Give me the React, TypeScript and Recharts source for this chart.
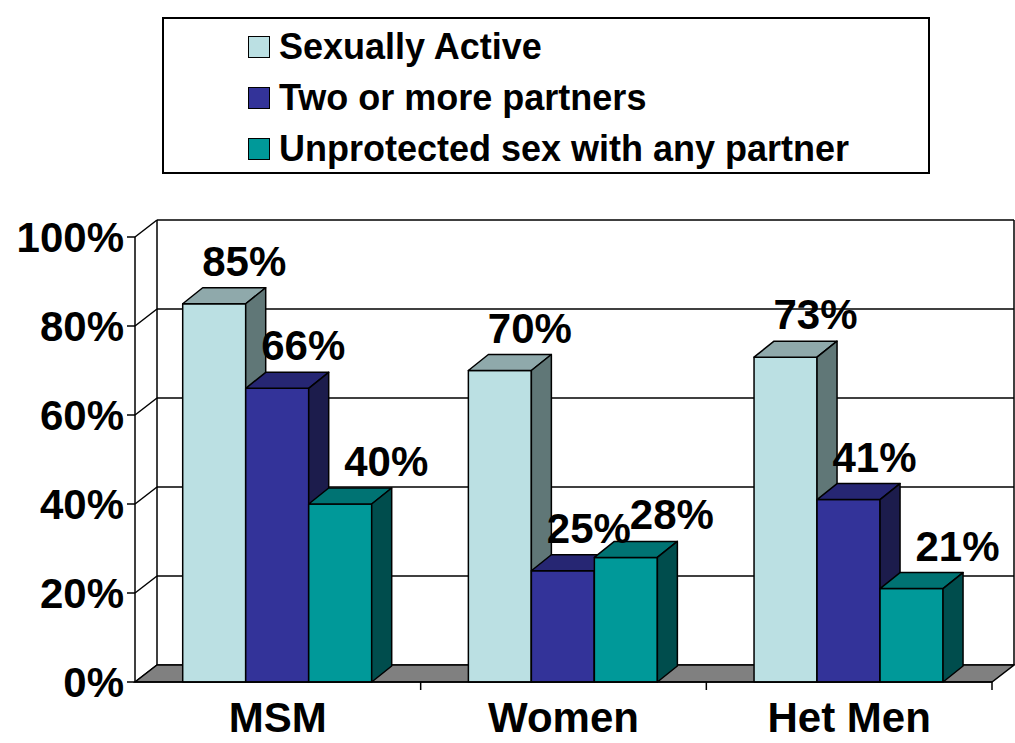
import React from 'react';
import { BarChart, Bar, XAxis, YAxis, CartesianGrid, Legend, LabelList, ReferenceArea } from 'recharts';

const categories = ['MSM', 'Women', 'Het Men'];
const sexuallyActive = [85, 70, 73];
const twoOrMorePartners = [66, 25, 41];
const unprotectedSex = [40, 28, 21];
const yTicks = [0, 20, 40, 60, 80, 100];
const seriesNames = ['Sexually Active', 'Two or more partners', 'Unprotected sex with any partner'];

const data = categories.map((name, i) => ({
  name,
  active: sexuallyActive[i],
  partners: twoOrMorePartners[i],
  unprotected: unprotectedSex[i],
}));

const FONT = '"Liberation Sans", Arial, sans-serif';
// depth of the 3d walls and bars
const WALL_DX = 22;
const WALL_DY = -17;
const BAR_DX = 20;
const BAR_DY = -16;

const palette = [
  { front: '#BBE0E3', top: '#8FA9AB', side: '#607777', labelDx: 30 },
  { front: '#333399', top: '#262673', side: '#1C1C4C', labelDx: 26 },
  { front: '#009999', top: '#007373', side: '#004D4D', labelDx: 46 },
];

const Bar3D = (colors: { front: string; top: string; side: string }) => (props: any) => {
  const { x, y, width, height } = props;
  if (width == null || height == null) return null;
  const r = x + width;
  const b = y + height;
  return (
    <g stroke="#000" strokeWidth={1.5} strokeLinejoin="round">
      <rect x={x} y={y} width={width} height={height} fill={colors.front} />
      <polygon points={`${x},${y} ${x + BAR_DX},${y + BAR_DY} ${r + BAR_DX},${y + BAR_DY} ${r},${y}`} fill={colors.top} />
      <polygon points={`${r},${y} ${r + BAR_DX},${y + BAR_DY} ${r + BAR_DX},${b + BAR_DY} ${r},${b}`} fill={colors.side} />
    </g>
  );
};

const GridLine = (props: any) => {
  const { x1, y1, x2, y2 } = props;
  return (
    <g stroke="#000" strokeWidth={1.5}>
      <line x1={x1 + WALL_DX} y1={y1 + WALL_DY} x2={x2 + WALL_DX} y2={y2 + WALL_DY} />
      <line x1={x1} y1={y1} x2={x1 + WALL_DX} y2={y1 + WALL_DY} />
    </g>
  );
};

const Walls = (props: any) => {
  const { x, y, width, height } = props;
  const b = y + height;
  const r = x + width;
  const band = width / categories.length;
  return (
    <g stroke="#000" strokeWidth={1.5}>
      <line x1={x + WALL_DX} y1={y + WALL_DY} x2={x + WALL_DX} y2={b + WALL_DY} />
      <line x1={r + WALL_DX} y1={y + WALL_DY} x2={r + WALL_DX} y2={b + WALL_DY} />
      <polygon
        points={`${x},${b} ${r},${b} ${r + WALL_DX},${b + WALL_DY} ${x + WALL_DX},${b + WALL_DY}`}
        fill="#808080"
      />
      {categories.map((c, i) => (
        <line key={c} x1={x + band * (i + 1)} y1={b} x2={x + band * (i + 1)} y2={b + 8} />
      ))}
    </g>
  );
};

const LegendBox = () => (
  <div
    style={{
      width: 768,
      height: 157,
      boxSizing: 'border-box',
      border: '2px solid #000',
      background: '#fff',
      paddingLeft: 84,
      paddingTop: 2,
      fontFamily: FONT,
      fontWeight: 'bold',
      fontSize: 36,
      color: '#000',
    }}
  >
    {seriesNames.map((s, i) => (
      <div key={s} style={{ display: 'flex', alignItems: 'center', height: 51 }}>
        <span
          style={{
            width: 20,
            height: 20,
            border: '1.5px solid #000',
            background: palette[i].front,
            marginRight: 9,
            display: 'inline-block',
          }}
        />
        <span>{s}</span>
      </div>
    ))}
  </div>
);

const makeLabel = (dx: number) => (props: any) => {
  const { x, y, width, value } = props;
  return (
    <text
      x={x + width / 2 + dx}
      y={y - 28}
      textAnchor="middle"
      fontFamily={FONT}
      fontWeight="bold"
      fontSize={42}
      fill="#000"
    >
      {value}%
    </text>
  );
};

const CategoryTick = (props: any) => {
  const { x, payload } = props;
  return (
    <text x={x} y={732} textAnchor="middle" fontFamily={FONT} fontWeight="bold" fontSize={42} fill="#000">
      {payload.value}
    </text>
  );
};

export default function App() {
  const keys = ['active', 'partners', 'unprotected'];
  return (
    <div style={{ position: 'absolute', left: 0, top: 0, background: '#fff' }}>
      <BarChart
        width={1015}
        height={743}
        data={data}
        margin={{ top: 237, right: 23, bottom: 0, left: 8 }}
        barCategoryGap="16.7%"
        barGap={0}
      >
        <CartesianGrid vertical={false} horizontal={GridLine} />
        <ReferenceArea y1={0} y2={100} shape={Walls} />
        <XAxis
          dataKey="name"
          height={61}
          axisLine={{ stroke: '#000', strokeWidth: 1.5 }}
          tickLine={false}
          tick={CategoryTick}
          interval={0}
        />
        <YAxis
          width={127}
          domain={[0, 100]}
          ticks={yTicks}
          interval={0}
          tickFormatter={(v: number) => `${v}%`}
          axisLine={{ stroke: '#000', strokeWidth: 1.5 }}
          tickLine={{ stroke: '#000', strokeWidth: 1.5 }}
          tickSize={8}
          tickMargin={3}
          tick={{ fontFamily: FONT, fontWeight: 'bold', fontSize: 42, fill: '#000' }}
        />
        <Legend
          layout="vertical"
          align="center"
          verticalAlign="middle"
          content={LegendBox}
          wrapperStyle={{ left: 162, top: 17, width: 768, height: 157 }}
        />
        {keys.map((k, i) => (
          <Bar
            key={k}
            dataKey={k}
            name={seriesNames[i]}
            fill={palette[i].front}
            shape={Bar3D(palette[i])}
            isAnimationActive={false}
          >
            <LabelList dataKey={k} content={makeLabel(palette[i].labelDx)} />
          </Bar>
        ))}
      </BarChart>
    </div>
  );
}
